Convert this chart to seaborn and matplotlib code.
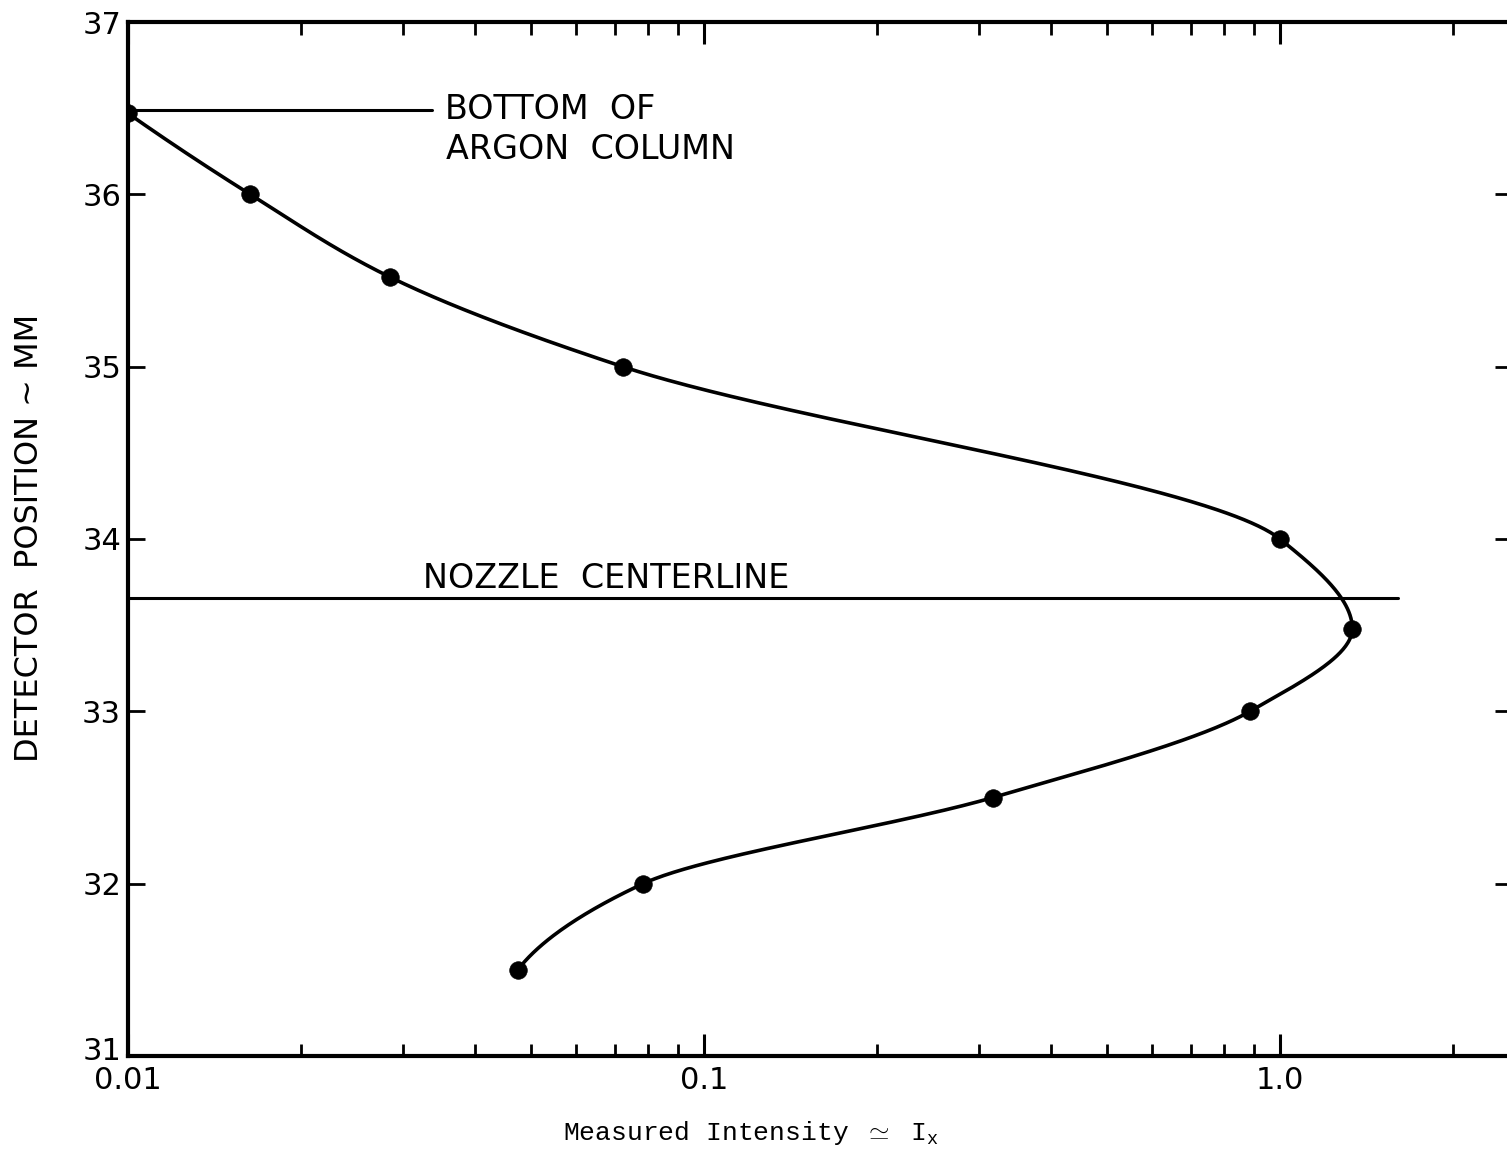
import numpy as np
import pandas as pd
import matplotlib
matplotlib.use("Agg")
import matplotlib.pyplot as plt
import matplotlib.ticker as mticker
import matplotlib.transforms as mtransforms
import seaborn as sns

# ---- data ----
intensity = [0.0475, 0.0784, 0.3175, 0.887, 1.335, 1.0, 0.0723, 0.0285, 0.0163, 0.0100]
position = [31.5, 32.0, 32.5, 33.0, 33.48, 34.0, 35.0, 35.52, 36.0, 36.47]

x_tick_values = [0.01, 0.1, 1.0]
x_tick_labels = ["0.01", "0.1", "1.0"]
y_tick_values = [31, 32, 33, 34, 35, 36, 37]
y_tick_labels = ["31", "32", "33", "34", "35", "36", "37"]

argon_bottom_y = 36.49
argon_line_x = [0.01, 0.0337]
nozzle_center_y = 33.66
nozzle_line_x = [0.01, 1.6]

x_label = r"Measured Intensity $\simeq$ I$_{\mathtt{x}}$"
y_label = "DETECTOR  POSITION ~ MM"
note_argon_1 = "BOTTOM  OF"
note_argon_2 = "ARGON  COLUMN"
note_nozzle = "NOZZLE  CENTERLINE"

# ---- smooth curve: shape-preserving cubic Hermite (PCHIP-style tangents,
#      quadratic end tangents) of log10(I) as a function of position ----
def pchip_like(xk, yk, xs):
    xk = np.asarray(xk, float)
    yk = np.asarray(yk, float)
    n = len(xk)
    h = np.diff(xk)
    d = np.diff(yk) / h
    m = np.zeros(n)
    for k in range(1, n - 1):
        if d[k - 1] * d[k] > 0:
            w1 = 2 * h[k] + h[k - 1]
            w2 = h[k] + 2 * h[k - 1]
            m[k] = (w1 + w2) / (w1 / d[k - 1] + w2 / d[k])
    m[0] = 2 * d[0] - m[1]
    m[-1] = 2 * d[-1] - m[-2]
    out = np.empty_like(xs)
    for j, x in enumerate(xs):
        i = min(max(np.searchsorted(xk, x) - 1, 0), n - 2)
        s = (x - xk[i]) / h[i]
        h00 = 2 * s ** 3 - 3 * s ** 2 + 1
        h10 = s ** 3 - 2 * s ** 2 + s
        h01 = -2 * s ** 3 + 3 * s ** 2
        h11 = s ** 3 - s ** 2
        out[j] = h00 * yk[i] + h10 * h[i] * m[i] + h01 * yk[i + 1] + h11 * h[i] * m[i + 1]
    return out

df = pd.DataFrame({"intensity": intensity, "position": position})
ys = np.linspace(min(position), max(position), 800)
xs = 10 ** pchip_like(position, np.log10(intensity), ys)
curve = pd.DataFrame({"intensity": xs, "position": ys})

# ---- figure ----
sns.set_style("ticks")
plt.rcParams["font.family"] = ["DejaVu Sans"]
plt.rcParams["text.color"] = "black"
plt.rcParams["xtick.color"] = "black"
plt.rcParams["ytick.color"] = "black"
plt.rcParams["mathtext.fontset"] = "custom"
plt.rcParams["mathtext.rm"] = "Liberation Mono"
plt.rcParams["mathtext.tt"] = "Liberation Mono"

W, H = 1507, 1159
fig = plt.figure(figsize=(W / 100, H / 100), dpi=100)
left_px, right_px, top_px, bot_px = 128, 1512, 22, 1056
ax = fig.add_axes([left_px / W, 1 - bot_px / H, (right_px - left_px) / W, (bot_px - top_px) / H])

ax.set_xscale("log")
sns.lineplot(data=curve, x="intensity", y="position", sort=False, estimator=None,
             color="black", linewidth=2.6, ax=ax)
sns.scatterplot(data=df, x="intensity", y="position", s=160, color="black",
                edgecolor="black", linewidth=0.5, zorder=5, ax=ax)

ax.plot(argon_line_x, [argon_bottom_y, argon_bottom_y], color="black", lw=2.2)
ax.plot(nozzle_line_x, [nozzle_center_y, nozzle_center_y], color="black", lw=2.2)

ax.text(0.0355, argon_bottom_y, note_argon_1, fontsize=24, va="center", ha="left")
ax.text(0.0357, 36.26, note_argon_2, fontsize=24, va="center", ha="left")
ax.text(0.0325, 33.77, note_nozzle, fontsize=24, va="center", ha="left")

ax.set_xlim(0.01, 10 ** ((right_px - left_px) / 576 - 2))
ax.set_ylim(31, 37)

ax.xaxis.set_major_locator(mticker.FixedLocator(x_tick_values))
ax.xaxis.set_major_formatter(mticker.FixedFormatter(x_tick_labels))
ax.xaxis.set_minor_locator(mticker.LogLocator(base=10, subs=np.arange(2, 10)))
ax.xaxis.set_minor_formatter(mticker.NullFormatter())
ax.yaxis.set_major_locator(mticker.FixedLocator(y_tick_values))
ax.yaxis.set_major_formatter(mticker.FixedFormatter(y_tick_labels))

ax.tick_params(axis="x", which="major", direction="in", length=16, width=2.2,
               top=True, bottom=True, labelsize=22, pad=7)
ax.tick_params(axis="x", which="minor", direction="in", length=9, width=2.0,
               top=True, bottom=True)
ax.tick_params(axis="y", which="major", direction="in", length=12, width=2.0,
               left=True, right=True, labelsize=22, pad=5)

for s in ax.spines.values():
    s.set_linewidth(3.0)
    s.set_color("black")

# lift the lowest y label a little, as in the reference, so it clears "0.01"
fig.canvas.draw()
lowest = ax.yaxis.get_majorticklabels()[0]
lowest.set_transform(lowest.get_transform() +
                     mtransforms.ScaledTranslation(0, 8 / 100, fig.dpi_scale_trans))

ax.set_xlabel("")
ax.set_ylabel("")
fig.text(30 / W, 1 - 538 / H, y_label, rotation=90, fontsize=23,
         ha="center", va="center")
fig.text(751 / W, 1 - 1133 / H, x_label, fontsize=19, ha="center", va="center",
         family=["Liberation Mono", "DejaVu Sans Mono"])

fig.savefig("out.png", dpi=100, facecolor="white")
